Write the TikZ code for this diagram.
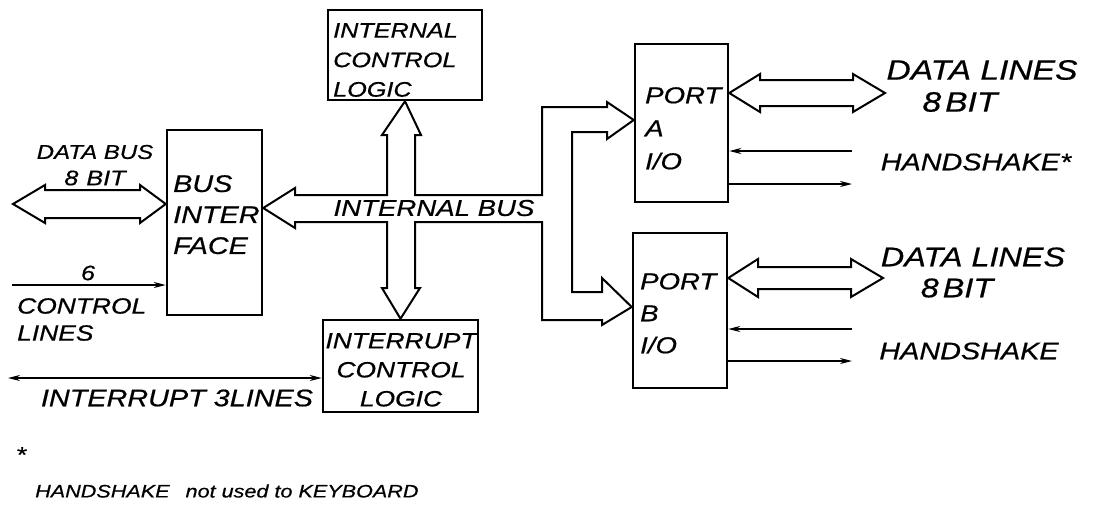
\documentclass[tikz,border=0pt]{standalone}
\usepackage{fontspec}
\setmainfont{Liberation Sans}[FakeStretch=1.2,FakeBold=0.6]
\usetikzlibrary{arrows.meta,calc}
\newcommand\fz[2]{\fontsize{#1}{#2}\selectfont\itshape}
\begin{document}
\begin{tikzpicture}[x=1pt,y=-1pt,
  box/.style={draw, line width=2.5pt, inner sep=0pt},
  fat/.style={draw, line width=2pt, line join=miter},
  thin/.style={draw, line width=1.7pt},
  tipr/.style={-{Stealth[length=12pt,width=6pt]}},
  tipb/.style={{Stealth[length=12pt,width=6pt]}-{Stealth[length=12pt,width=6pt]}},
  lbl/.style={inner sep=0pt, text=black},
]
\useasboundingbox (0,0) rectangle (1093,515);

% blocks
\node[box, minimum width=95pt,  minimum height=185pt] (bi)   at (214.5,222.5) {};
\node[box, minimum width=154pt, minimum height=90pt]  (icl)  at (405,55) {};
\node[box, minimum width=155pt, minimum height=92pt]  (intc) at (400.5,366) {};
\node[box, minimum width=93pt,  minimum height=158pt] (pa)   at (681.5,123) {};
\node[box, minimum width=94pt,  minimum height=155pt] (pb)   at (680,310.5) {};

% block texts
\node[lbl, anchor=north west, align=left, font=\fz{24}{31}] (tbi) at (173,175) {BUS\\INTER\\FACE};
\node[lbl, anchor=north west, align=left, font=\fz{21}{29.5}] (ticl) at (333,23) {INTERNAL\\CONTROL\\LOGIC};
\node[lbl, anchor=north, align=center, font=\fz{22}{29}] (tintc) at (401,333) {INTERRUPT\\CONTROL\\LOGIC};
\node[lbl, anchor=north west, align=left, font=\fz{23}{33}] (tpa) at (645,87) {PORT\\A\\I/O};
\node[lbl, anchor=north west, align=left, font=\fz{23}{32}] (tpb) at (640,273) {PORT\\B\\I/O};

% left data bus double arrow
\coordinate (dbl) at (13,204);
\path[fat] (dbl) -- (45,185) -- (45,190) -- (140,190) -- (140,185) -- (bi.west |- dbl)
  -- (140,223) -- (140,218) -- (45,218) -- (45,223) -- cycle;

% internal bus (fork / cross)
\path[fat] (bi.east |- 0,208) -- (295,188) -- (295,195) -- (387,195) -- (387,135) -- (382,135)
  -- (icl.south) -- (421,135) -- (415,135) -- (415,195) -- (542,195) -- (542,107)
  -- (607,107) -- (607,102) -- (pa.west |- 0,120) -- (607,139) -- (607,132) -- (572,132)
  -- (572,292) -- (602,292) -- (602,278) -- (pb.west |- 0,307) -- (602,325) -- (602,320)
  -- (542,320) -- (542,222) -- (415,222) -- (415,288) -- (420,288) -- (intc.north)
  -- (382,288) -- (387,288) -- (387,222) -- (295,222) -- (295,228) -- cycle;

% port A data double arrow
\coordinate (pad) at (885,93);
\path[fat] (pa.east |- pad) -- (760,74) -- (760,80) -- (853,80) -- (853,74) -- (pad)
  -- (853,112) -- (853,106) -- (760,106) -- (760,112) -- cycle;
% port B data double arrow
\coordinate (pbd) at (883,278);
\path[fat] (pb.east |- pbd) -- (758,259) -- (758,267) -- (851,267) -- (851,259) -- (pbd)
  -- (851,297) -- (851,289) -- (758,289) -- (758,297) -- cycle;

% handshake lines
\coordinate (hai) at (852,151);
\coordinate (hao) at (852,184);
\coordinate (hbi) at (852,329);
\coordinate (hbo) at (852,361);
\draw[thin, tipr] (hai) -- (pa.east |- hai);
\draw[thin, tipr] (pa.east |- hao) -- (hao);
\draw[thin, tipr] (hbi) -- (pb.east |- hbi);
\draw[thin, tipr] (pb.east |- hbo) -- (hbo);

% control lines and interrupt lines
\coordinate (cl) at (12,285);
\draw[thin, tipr] (cl) -- (bi.west |- cl);
\coordinate (il) at (8,378);
\draw[thin, tipb] (il) -- (intc.west |- il);

% labels
\node[lbl, font=\fz{20}{24}] (tdb) at (95,152) {DATA BUS};
\node[lbl, font=\fz{21}{24}] (t8a) at (95,178) {8\hspace{8pt}BIT};
\node[lbl, font=\fz{21}{24}] (t6) at (88,273) {6};
\node[lbl, anchor=north west, align=left, font=\fz{22}{27}] (tcl) at (17,298) {CONTROL\\LINES};
\node[lbl, font=\fz{24}{28}] (til) at (177,398) {INTERRUPT 3LINES};
\node[lbl, font=\fz{23}{28}] (tib) at (434,208) {INTERNAL BUS};
\node[lbl, font=\fz{28}{32}] (tdla) at (982,70) {DATA LINES};
\node[lbl, font=\fz{28}{32}] (t8b) at (960,102) {8\hspace{4pt}BIT};
\node[lbl, font=\fz{24}{28}] (thsa) at (976,162) {HANDSHAKE*};
\node[lbl, font=\fz{27}{32}] (tdlb) at (973,257) {DATA LINES};
\node[lbl, font=\fz{27}{32}] (t8c) at (957,288) {8\hspace{4pt}BIT};
\node[lbl, font=\fz{24}{28}] (thsb) at (969,351) {HANDSHAKE};
\node[lbl, anchor=north, font=\fz{22}{24}] (tast) at (21,447) {*};
\node[lbl, anchor=west, font=\fz{18}{20}] (tfn) at (35,491) {HANDSHAKE\hspace{10pt} not used to KEYBOARD};
\end{tikzpicture}
\end{document}
